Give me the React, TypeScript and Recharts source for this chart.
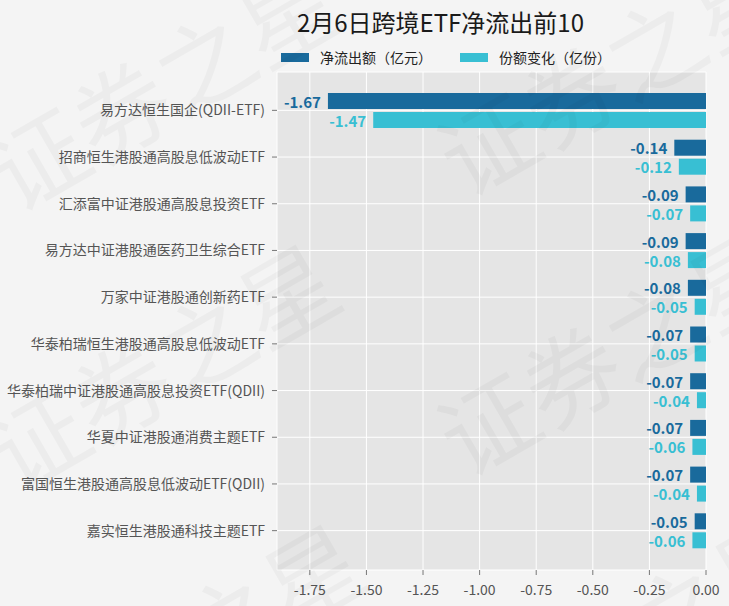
import React from 'react';
import {
  BarChart,
  Bar,
  XAxis,
  YAxis,
  CartesianGrid,
  LabelList,
} from 'recharts';

const categories = [
  '易方达恒生国企(QDII-ETF)',
  '招商恒生港股通高股息低波动ETF',
  '汇添富中证港股通高股息投资ETF',
  '易方达中证港股通医药卫生综合ETF',
  '万家中证港股通创新药ETF',
  '华泰柏瑞恒生港股通高股息低波动ETF',
  '华泰柏瑞中证港股通高股息投资ETF(QDII)',
  '华夏中证港股通消费主题ETF',
  '富国恒生港股通高股息低波动ETF(QDII)',
  '嘉实恒生港股通科技主题ETF',
];

// 净流出额（亿元）
const netOutflow = [-1.67, -0.14, -0.09, -0.09, -0.08, -0.07, -0.07, -0.07, -0.07, -0.05];
// 份额变化（亿份）
const shareChange = [-1.47, -0.12, -0.07, -0.08, -0.05, -0.05, -0.04, -0.06, -0.04, -0.06];

const seriesNames = ['净流出额（亿元）', '份额变化（亿份）'];
const xTicks = [-1.75, -1.5, -1.25, -1.0, -0.75, -0.5, -0.25, 0];

const DARK = '#196a9c';
const LIGHT = '#38bfd3';
const FONT = '"Noto Sans CJK SC", "Noto Sans", sans-serif';

const data = categories.map((name, i) => ({
  name,
  net: netOutflow[i],
  share: shareChange[i],
}));

// label sits just left of the bar's left end (bars grow leftwards from 0)
const makeLabel = (color: string) => (props: any) => {
  const { x, y, width, height, value } = props;
  const left = Math.min(Number(x), Number(x) + Number(width));
  return (
    <text
      x={left - 7}
      y={Number(y) + Number(height) / 2}
      fill={color}
      fontSize={15}
      fontWeight={700}
      fontFamily={FONT}
      textAnchor="end"
      dominantBaseline="central"
    >
      {Number(value).toFixed(2)}
    </text>
  );
};

// tiled watermark anchors (baseline start of each text)
const watermarks = [
  [15, 215],
  [15, 495],
  [465, 200],
  [465, 480],
  [40, 775],
  [490, 765],
];

export default function App() {
  return (
    <div
      style={{
        position: 'absolute',
        left: 0,
        top: 0,
        width: 729,
        height: 606,
        background: '#f4f4f4',
        overflow: 'hidden',
        fontFamily: FONT,
      }}
    >
      <div
        style={{
          position: 'absolute',
          left: 0,
          width: 729,
          top: 4,
          paddingLeft: 152,
          boxSizing: 'border-box',
          textAlign: 'center',
          fontSize: 24,
          color: '#1a1a1a',
          lineHeight: '36px',
        }}
      >
        2月6日跨境ETF净流出前10
      </div>
      <div
        style={{
          position: 'absolute',
          left: 281,
          top: 47,
          display: 'flex',
          alignItems: 'center',
          fontSize: 14,
          color: '#222',
          lineHeight: '20px',
        }}
      >
        <span style={{ width: 28, height: 9, background: DARK, display: 'inline-block', marginRight: 11 }} />
        <span style={{ marginRight: 28 }}>{seriesNames[0]}</span>
        <span style={{ width: 28, height: 9, background: LIGHT, display: 'inline-block', marginRight: 11 }} />
        <span>{seriesNames[1]}</span>
      </div>
      <div style={{ position: 'absolute', left: 0, top: 0 }}>
        <BarChart
          width={729}
          height={606}
          data={data}
          layout="vertical"
          margin={{ top: 72, right: 23, left: 0, bottom: 0 }}
          barSize={16}
          barGap={3}
        >
          <CartesianGrid fill="#e5e5e5" stroke="#ffffff" strokeWidth={1} />
          <XAxis
            type="number"
            domain={[-1.895, 0]}
            ticks={xTicks}
            tickFormatter={(v: number) => v.toFixed(2)}
            height={36}
            axisLine={false}
            tickLine={{ stroke: '#777' }}
            tickSize={5}
            tickMargin={10}
            tick={{ fontSize: 14, fill: '#555', fontFamily: FONT }}
            allowDataOverflow
          />
          <YAxis
            type="category"
            dataKey="name"
            width={277}
            axisLine={false}
            tickLine={{ stroke: '#777' }}
            tickSize={5}
            tickMargin={7}
            interval={0}
            padding={{ top: 15, bottom: 16 }}
            tick={{ fontSize: 14, fill: '#555', fontFamily: FONT }}
          />
          <Bar dataKey="net" name={seriesNames[0]} fill={DARK} isAnimationActive={false}>
            <LabelList dataKey="net" content={makeLabel(DARK)} />
          </Bar>
          <Bar dataKey="share" name={seriesNames[1]} fill={LIGHT} isAnimationActive={false}>
            <LabelList dataKey="share" content={makeLabel(LIGHT)} />
          </Bar>
        </BarChart>
      </div>
      <svg
        width={729}
        height={606}
        style={{ position: 'absolute', left: 0, top: 0, pointerEvents: 'none' }}
      >
        {watermarks.map(([wx, wy], i) => (
          <text
            key={i}
            x={wx}
            y={wy}
            fontSize={96}
            fontFamily={FONT}
            fill="rgba(0,0,0,0.032)"
            transform={`rotate(-30 ${wx} ${wy})`}
          >
            证券之星
          </text>
        ))}
      </svg>
    </div>
  );
}
